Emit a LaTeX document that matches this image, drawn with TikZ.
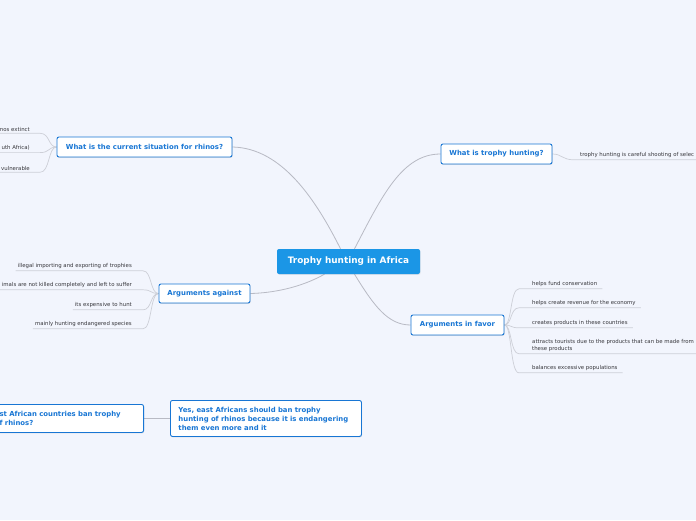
\documentclass[tikz,border=0pt]{standalone}
\usepackage{fontspec}
\setmainfont{DejaVu Sans}
\usetikzlibrary{backgrounds,shadows}

\definecolor{pagebg}{RGB}{242,245,253}
\definecolor{topicblue}{RGB}{27,150,230}
\definecolor{subblue}{RGB}{24,118,212}
\definecolor{branchgray}{RGB}{184,186,196}
\definecolor{twiggray}{RGB}{205,207,215}
\definecolor{leafink}{RGB}{55,55,60}

\tikzset{
  central/.style={rectangle, rounded corners=2pt, fill=topicblue, text=white,
    font=\bfseries\fontsize{8.9}{10}\selectfont, minimum width=143pt, minimum height=25pt,
    drop shadow={opacity=0.15, shadow xshift=0.6pt, shadow yshift=-0.8pt}},
  subtopic/.style={rectangle, rounded corners=2pt, draw=subblue, line width=0.9pt, fill=white,
    text=subblue, font=\bfseries\fontsize{6.9}{9}\selectfont, minimum height=20pt,
    drop shadow={opacity=0.2, shadow xshift=0.6pt, shadow yshift=-0.9pt}},
  leaf/.style={inner sep=0pt, yshift=-1pt, text=leafink, font=\fontsize{5.4}{7}\selectfont},
  branch/.style={draw=branchgray, line width=0.8pt},
  twig/.style={draw=twiggray, line width=0.7pt},
}

\begin{document}
\begin{tikzpicture}[x=1pt,y=-1pt]
  \useasboundingbox (0,0) rectangle (696,520);
  \clip (0,0) rectangle (696,520);

  % topics
  \node[central] (hunting) at (348.5,261.5) {Trophy hunting in Africa};
  \node[subtopic, minimum width=175pt] (situation) at (144.5,147) {What is the current situation for rhinos?};
  \node[subtopic, minimum width=111pt] (whatis) at (496.5,154) {What is trophy hunting?};
  \node[subtopic, minimum width=91pt, minimum height=19pt] (against) at (204.5,293.5) {Arguments against};
  \node[subtopic, minimum width=93pt] (favor) at (457.5,325) {Arguments in favor};
  \node[subtopic, anchor=north east, inner xsep=8pt, text width=136pt, align=left,
    minimum height=28pt] (question) at (144,404) {st African countries ban trophy\\f rhinos?};
  \node[subtopic, anchor=north west, inner xsep=8pt, text width=175pt, align=left,
    minimum height=36pt] (answer) at (170,400) {Yes, east Africans should ban trophy\\hunting of rhinos because it is endangering\\them even more and it};

  % leaves of the situation node
  \node[leaf, anchor=east] (sit1) at (30,128) {nos extinct};
  \node[leaf, anchor=east] (sit2) at (30,147) {uth Africa)};
  \node[leaf, anchor=east] (sit3) at (30,167) {vulnerable};

  % leaf of what is trophy hunting
  \node[leaf, anchor=west] (def) at (580,154) {trophy hunting is careful shooting of selec};

  % leaves against
  \node[leaf, anchor=east] (con1) at (132,265) {illegal importing and exporting of trophies};
  \node[leaf, anchor=east] (con2) at (132,284) {imals are not killed completely and left to suffer};
  \node[leaf, anchor=east] (con3) at (132,304) {its expensive to hunt};
  \node[leaf, anchor=east] (con4) at (132,323) {mainly hunting endangered species};

  % leaves in favor
  \node[leaf, anchor=west] (pro1) at (532,283) {helps fund conservation};
  \node[leaf, anchor=west] (pro2) at (532,302) {helps create revenue for the economy};
  \node[leaf, anchor=west] (pro3) at (532,322) {creates products in these countries};
  \node[leaf, anchor=west, align=left] (pro4) at (532,344.5)
    {attracts tourists due to the products that can be made from\\these products};
  \node[leaf, anchor=west] (pro5) at (532,367) {balances excessive populations};

  % underline points of the leaves
  \foreach \lf in {sit1,sit2,sit3,def,con1,con2,con3,con4,pro1,pro2,pro3,pro4,pro5}{
    \coordinate (\lf-ul) at ([yshift=-2pt]\lf.south west);
    \coordinate (\lf-ur) at ([yshift=-2pt]\lf.south east);
  }

  \begin{scope}[on background layer]
    \fill[pagebg] (0,0) rectangle (696,520);

    % main branches
    \draw[branch] ([xshift=-8pt]hunting.north) .. controls (316,200) and (282,148) .. (situation.east);
    \draw[branch] ([xshift=6pt]hunting.north) .. controls (382,196) and (402,154) .. (whatis.west);
    \draw[branch] ([xshift=-24pt]hunting.south) .. controls (300,288) and (272,293) .. (against.east);
    \draw[branch] ([xshift=6pt]hunting.south) .. controls (374,306) and (388,325) .. (favor.west);
    \draw[branch] (question.east) -- (answer.west);

    % twigs to the left
    \foreach \lf in {sit1,sit2,sit3}{
      \draw[twig] (situation.west) .. controls (48,147) and (50,0 |- \lf-ur) .. (40,0 |- \lf-ur)
        -- ([xshift=-20pt]\lf-ul);
    }
    \foreach \lf in {con1,con2,con3,con4}{
      \draw[twig] (against.west) .. controls (150,293.5) and (152,0 |- \lf-ur) .. (143,0 |- \lf-ur)
        -- ([xshift=-2pt]\lf-ul);
    }

    % twigs to the right
    \draw[twig] (whatis.east) .. controls (562,154) and (562,0 |- def-ul) .. (574,0 |- def-ul) -- ([xshift=20pt]def-ur);
    \foreach \lf in {pro1,pro2,pro3,pro4,pro5}{
      \draw[twig] (favor.east) .. controls (512,325) and (510,0 |- \lf-ul) .. (519,0 |- \lf-ul)
        -- ([xshift=5pt]\lf-ur);
    }
  \end{scope}
\end{tikzpicture}
\end{document}
